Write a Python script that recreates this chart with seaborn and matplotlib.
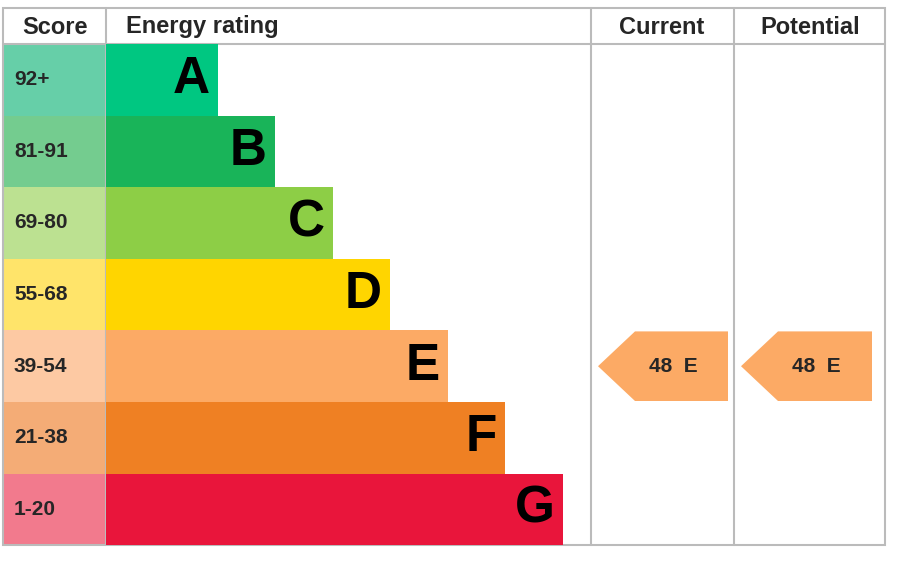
import matplotlib
matplotlib.use("Agg")
import matplotlib.pyplot as plt
import seaborn as sns
from matplotlib.patches import Rectangle, Polygon

letters = ["A", "B", "C", "D", "E", "F", "G"]
scores = ["92+", "81-91", "69-80", "55-68", "39-54", "21-38", "1-20"]
bar_lengths = [112, 169, 227, 284, 342, 399, 457]
bar_colors = ["#00c781", "#19b459", "#8dce46", "#ffd500", "#fcaa65", "#ef8023", "#e9153b"]
score_colors = ["#66cfa8", "#74cc8f", "#bce191", "#ffe46a", "#fdc9a3", "#f4ac76", "#f27a8d"]
current_value, current_band = 48, "E"
potential_value, potential_band = 48, "E"

sns.set_theme(style="white")
plt.rcParams['font.family'] = ['Liberation Sans', 'DejaVu Sans']
W, H = 898, 567
fig = plt.figure(figsize=(W/100, H/100), dpi=100)
bg = fig.add_axes([0, 0, 1, 1])
bg.set_xlim(0, W); bg.set_ylim(H, 0); bg.axis("off")

top, head, row_h = 8, 44, 71.6
left, score_r, bar_l, cur_l, pot_l, right = 3, 106, 106, 591, 734, 885
bottom = head + 7*row_h

# bars axes
bx = fig.add_axes([bar_l/W, 1-bottom/H, (W-bar_l)/W, (bottom-head)/H])
sns.barplot(x=bar_lengths, y=letters, hue=letters, palette=bar_colors, width=1.0,
            orient="h", ax=bx, legend=False, saturation=1, edgecolor="none")
bx.set_xlim(0, W-bar_l); bx.set_ylim(6.5, -0.5); bx.axis("off")
for i, (l, L) in enumerate(zip(letters, bar_lengths)):
    bx.text(L-8, i, l, ha="right", va="center", fontsize=37, fontweight="bold", color="black")

lc = "#bbbbbb"
for i, (s, c) in enumerate(zip(scores, score_colors)):
    y0 = head + i*row_h
    bg.add_patch(Rectangle((left, y0), score_r-left, row_h, color=c, lw=0))
    bg.text(14, y0+row_h/2, s, ha="left", va="center", fontsize=15, fontweight="bold")
bg.add_patch(Rectangle((left, top), right-left, bottom-top, fill=False, ec=lc, lw=1.5))
bg.plot([left, right], [head, head], color=lc, lw=1.5)
for x in (score_r, cur_l, pot_l):
    bg.plot([x, x], [top, bottom], color=lc, lw=1.5)
bg.text(55, 27, "Score", ha="center", va="center", fontsize=17, fontweight="bold")
bg.text(126, 27, "Energy rating", ha="left", va="center", fontsize=17, fontweight="bold")
bg.text(662, 27, "Current", ha="center", va="center", fontsize=17, fontweight="bold")
bg.text(810, 27, "Potential", ha="center", va="center", fontsize=17, fontweight="bold")

def arrow(x0, x1, val, band):
    idx = letters.index(band)
    y0 = head + idx*row_h + 1; y1 = y0 + row_h - 2
    ym = (y0+y1)/2
    bg.add_patch(Polygon([(x0, ym), (x0+37, y0), (x1, y0), (x1, y1), (x0+37, y1)],
                         color=bar_colors[idx], lw=0))
    bg.text((x0+x1)/2+10, ym, f"{val}  {band}", ha="center", va="center",
            fontsize=15, fontweight="bold")
arrow(598, 728, current_value, current_band)
arrow(741, 872, potential_value, potential_band)

fig.savefig("out.png", dpi=100)
